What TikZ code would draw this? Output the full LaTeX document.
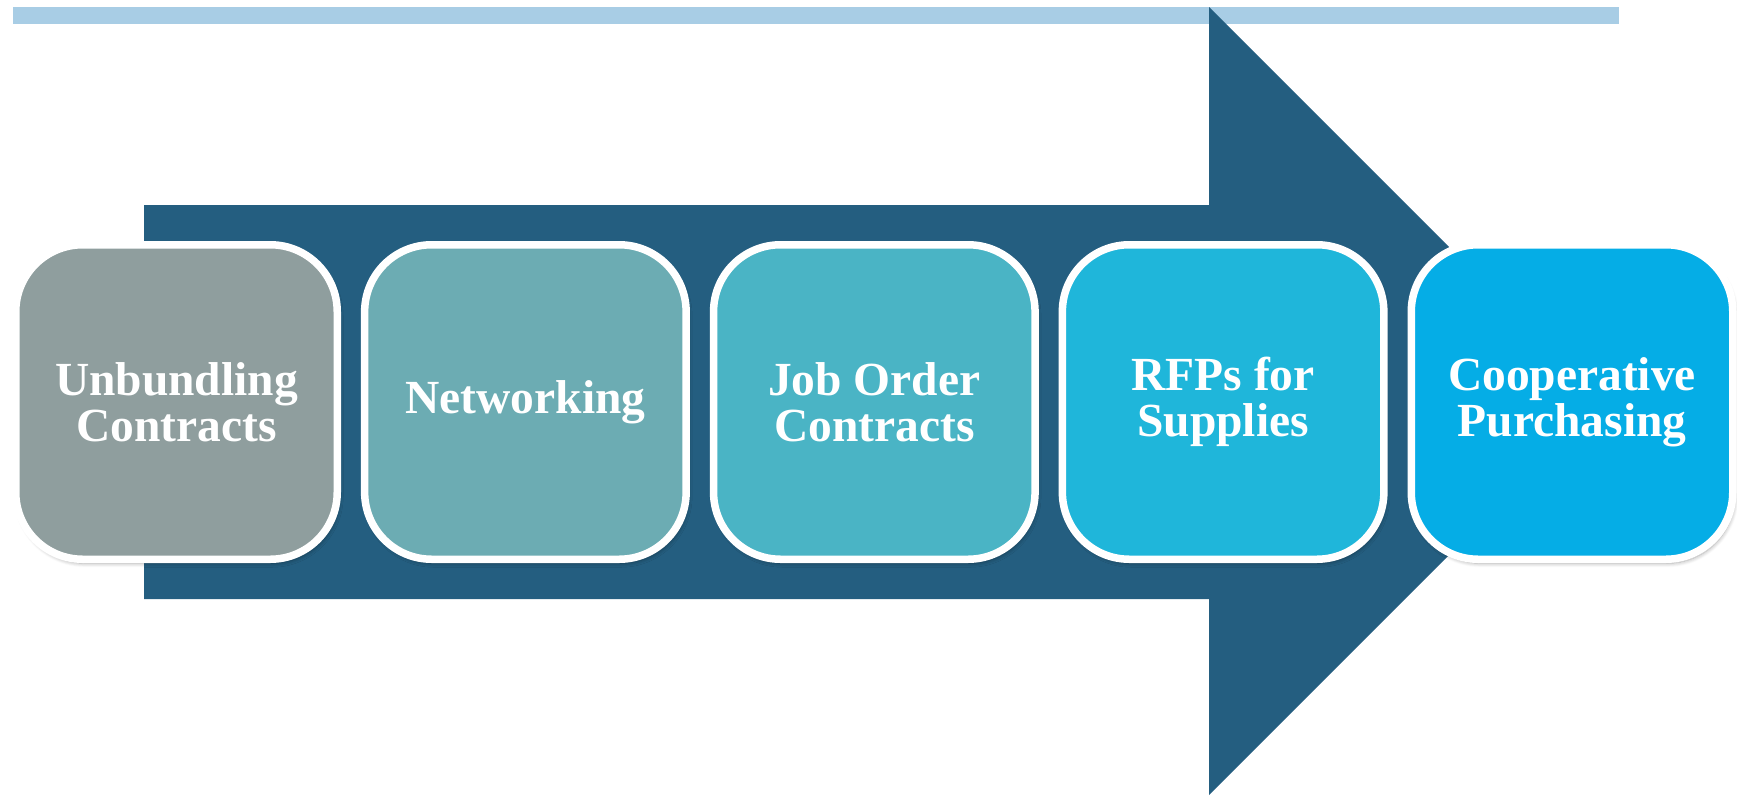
\documentclass[tikz,border=0pt]{standalone}
\usepackage{fontspec}
\setmainfont{Liberation Serif}
\usetikzlibrary{shadows.blur}
\definecolor{barblue}{HTML}{A8CDE5}
\definecolor{arrowblue}{HTML}{245E80}
\definecolor{cA}{HTML}{8F9E9E}
\definecolor{cB}{HTML}{6CACB3}
\definecolor{cC}{HTML}{4AB4C5}
\definecolor{cD}{HTML}{1FB6DA}
\definecolor{cE}{HTML}{05ADE6}
\tikzset{
  stagebox/.style={draw=white, line width=7.5pt, rounded corners=67pt,
    minimum width=321.5pt, minimum height=314.5pt, inner sep=0pt,
    align=center, text=white,
    font=\bfseries\fontsize{47.5}{46}\selectfont,
    blur shadow={shadow xshift=2pt, shadow yshift=-4pt, shadow blur steps=6, shadow blur radius=4pt, shadow opacity=35}},
}
\begin{document}
\begin{tikzpicture}[x=1pt,y=-1pt]
\useasboundingbox (0,0) rectangle (1737,798);
\fill[barblue] (13,7) rectangle (1619,24);
\fill[arrowblue] (144,205) -- (1209,205) -- (1209,7) -- (1603,401) -- (1209,795) -- (1209,599) -- (144,599) -- cycle;
\node[stagebox, fill=cA] (b1) at (176.5,402) {Unbundling\\Contracts};
\node[stagebox, fill=cB] (b2) at (525.4,402) {Networking};
\node[stagebox, fill=cC] (b3) at (874.3,402) {Job Order\\Contracts};
\node[stagebox, fill=cD] (b4) at (1223.1,402) {RFPs for\\Supplies};
\node[stagebox, fill=cE] (b5) at (1572,402) {Cooperative\\Purchasing};
\end{tikzpicture}
\end{document}
